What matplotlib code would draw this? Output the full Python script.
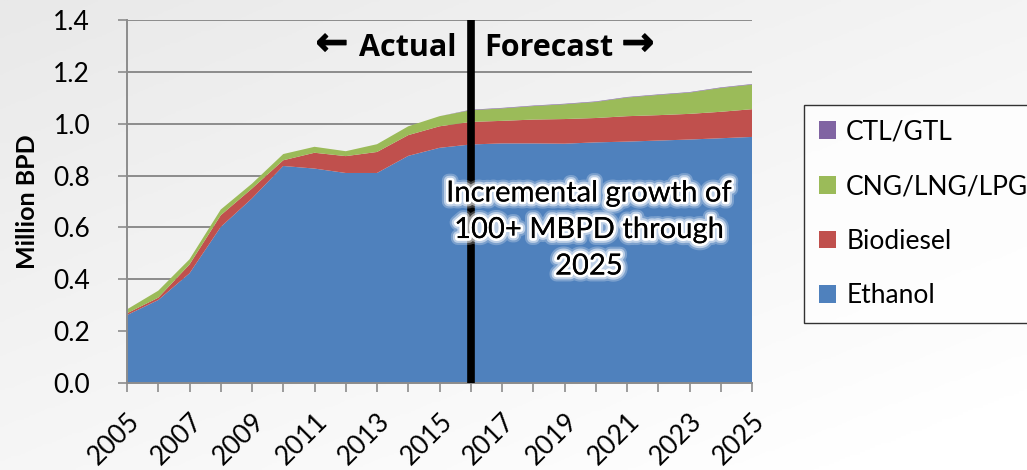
import numpy as np
import matplotlib
matplotlib.use("Agg")
import matplotlib.pyplot as plt
import matplotlib.patheffects as pe

plt.rcParams['font.family'] = ['Lato', 'DejaVu Sans']

years = list(range(2005, 2026))
ethanol = [0.262, 0.320, 0.423, 0.602, 0.712, 0.837, 0.827, 0.810, 0.810, 0.876, 0.907,
           0.920, 0.924, 0.924, 0.923, 0.928, 0.931, 0.935, 0.939, 0.944, 0.949]
biodiesel = [0.007, 0.009, 0.034, 0.045, 0.038, 0.022, 0.061, 0.065, 0.081, 0.080, 0.083,
             0.087, 0.087, 0.092, 0.095, 0.094, 0.098, 0.098, 0.099, 0.102, 0.107]
cng_lng_lpg = [0.015, 0.027, 0.020, 0.022, 0.019, 0.024, 0.023, 0.019, 0.030, 0.034, 0.039,
               0.045, 0.048, 0.052, 0.057, 0.062, 0.072, 0.078, 0.082, 0.092, 0.095]
ctl_gtl = [0.0, 0.0, 0.0, 0.0, 0.0, 0.0, 0.0, 0.0, 0.0, 0.0, 0.0,
           0.002, 0.002, 0.002, 0.002, 0.002, 0.002, 0.002, 0.002, 0.002, 0.002]
series_names = ['Ethanol', 'Biodiesel', 'CNG/LNG/LPG', 'CTL/GTL']
colors = ['#4f81bd', '#c0504d', '#9bbb59', '#8064a2']
split_year = 2016

fig = plt.figure(figsize=(10.27, 4.70), dpi=100)

# soft grey-to-white backdrop
bg = fig.add_axes([0, 0, 1, 1], zorder=-10)
gx, gy = np.meshgrid(np.linspace(0, 1, 200), np.linspace(0, 1, 200))
grad = np.clip(0.5 * gx + 0.6 * gy, 0, 1)
bg.imshow(grad, cmap=matplotlib.colors.LinearSegmentedColormap.from_list(
    'bg', ['#e9e9e9', '#ffffff']), extent=[0, 1, 0, 1], aspect='auto', origin='upper')
bg.axis('off')

ax = fig.add_axes([127 / 1027, 1 - 383 / 470, (752 - 127) / 1027, (383 - 20) / 470])
ax.patch.set_alpha(0)

polys = ax.stackplot(years, ethanol, biodiesel, cng_lng_lpg, ctl_gtl,
                     colors=colors, labels=series_names, zorder=2)

ax.axvline(split_year, color='black', lw=5.5, zorder=4)

ax.set_xlim(2005, 2025)
ax.set_ylim(0, 1.4)
ax.set_yticks(np.arange(0, 1.41, 0.2))
ax.set_yticklabels([f'{v:.1f}' for v in np.arange(0, 1.41, 0.2)], fontsize=19)
ax.set_xticks(years, minor=True)
ax.set_xticks(years[::2])
ax.set_xticklabels([str(y) for y in years[::2]], rotation=45, ha='right',
                   rotation_mode='anchor', fontsize=19)
ax.tick_params(axis='x', which='both', length=6.5, color='#8c8c8c', width=1.2, pad=12)
ax.tick_params(axis='y', length=6.5, color='#8c8c8c', width=1.2, pad=20)
ax.grid(axis='y', color='#8c8c8c', lw=1.4, zorder=1)
ax.set_axisbelow(True)
for s in ['top', 'right']:
    ax.spines[s].set_visible(False)
for s in ['left', 'bottom']:
    ax.spines[s].set_color('#8c8c8c')
    ax.spines[s].set_linewidth(1.4)

ax.set_ylabel('Million BPD', fontsize=18, fontweight='bold')
ax.yaxis.set_label_coords(-0.14, 0.5)

# actual / forecast header around the split line
hdr_y = 1.262
heavy = [pe.withStroke(linewidth=0.8, foreground='black')]
ax.text(split_year - 0.45, hdr_y, 'Actual', ha='right', va='baseline',
        fontsize=22, fontweight='bold', family=['Open Sans', 'DejaVu Sans'], zorder=5)
ax.text(2011.56, hdr_y + 0.004, '\u2190', ha='center', va='baseline',
        fontsize=28, fontweight='bold', family=['DejaVu Sans'], zorder=5,
        path_effects=heavy)
ax.text(split_year + 0.42, hdr_y, 'Forecast', ha='left', va='baseline',
        fontsize=22, fontweight='bold', family=['Open Sans', 'DejaVu Sans'], zorder=5)
ax.text(2021.35, hdr_y + 0.004, '\u2192', ha='center', va='baseline',
        fontsize=28, fontweight='bold', family=['DejaVu Sans'], zorder=5,
        path_effects=heavy)

glow = [pe.withStroke(linewidth=10, foreground='white', alpha=0.25),
        pe.withStroke(linewidth=7, foreground='white', alpha=0.5),
        pe.withStroke(linewidth=4, foreground='white'),
        pe.Normal()]
ax.text(2019.78, 0.59, 'Incremental growth of\n100+ MBPD through\n2025', ha='center',
        va='center', fontsize=21, linespacing=1.5, zorder=5, path_effects=glow)

handles, labels = ax.get_legend_handles_labels()
leg = fig.legend(handles[::-1], labels[::-1], loc='upper left',
                 bbox_to_anchor=(804 / 1027, 1 - 105 / 470), fontsize=19,
                 frameon=True, fancybox=False, edgecolor='black',
                 handlelength=0.65, handleheight=0.65, handletextpad=0.4,
                 labelspacing=1.12, borderpad=0.55, borderaxespad=0)
leg.get_frame().set_linewidth(1.0)
leg.get_frame().set_facecolor('white')

fig.savefig('out.png', dpi=100)
